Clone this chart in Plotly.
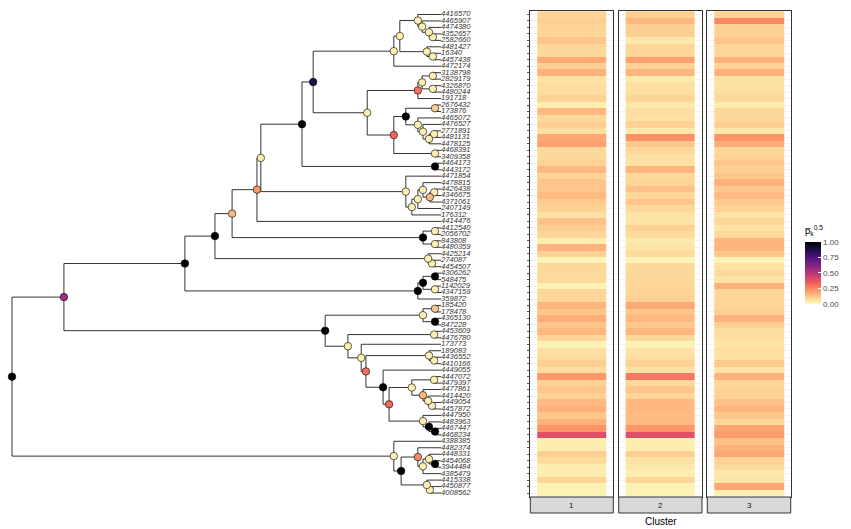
import re
import plotly.graph_objects as go

# ---------------- data ----------------
leaf_labels = [
    "4416570", "4465907", "4474380", "4352657", "2582660", "4481427", "16340", "4457438", "4472174",
    "3138798", "2829179", "4326870", "4480244", "191718", "2676432", "173876", "4465072", "4476527",
    "2771891", "4481131", "4478125", "4468391", "3409358", "4464173", "4443172", "4471854", "4478815",
    "4426438", "4346675", "4371061", "2407149", "176312", "4414476", "4412540", "2056702", "843808",
    "4480359", "4425214", "274087", "4454507", "4306262", "548475", "1142029", "4347159", "359872",
    "185420", "178478", "4365130", "847228", "4453609", "4476780", "173773", "189083", "4436552",
    "4410166", "4449055", "4447072", "4479397", "4477861", "4414420", "4449054", "4457872", "4447950",
    "4483963", "4467447", "4468234", "4388385", "4482374", "4448331", "4454068", "3944484", "4385479",
    "4415338", "4450877", "4008562",
]

tree_newick = (
    "((((((((((((4416570,(4465907,(4474380,(4352657,2582660)a4)a3)a2)a1,(4481427,(16340,4457438)b2)b1)c1,"
    "4472174)c0,((((3138798,2829179)d3,(4326870,4480244)d4)d2,191718)d1,(((2676432,173876)e3,(4465072,"
    "(4476527,((2771891,4481131)e7,4478125)e6)e5)e4)e2,(4468391,3409358)e8)e1)m)N,(4464173,4443172)z2)Z,"
    "(4471854,(((4478815,((4426438,4346675)q5,4371061)q4)q3,2407149)q2,176312)q1)Q)Y,4414476)X,"
    "((4412540,2056702)k1,(843808,4480359)k2)K)W,(4425214,(274087,4454507)l1)L)V,"
    "(((4306262,548475)t2,(1142029,4347159)t3)t1,359872)T)U,"
    "(((185420,178478)g2,(4365130,847228)g3)G1,((4453609,4476780)h1b,(173773,((189083,(4436552,4410166)h4b)H4,"
    "(4449055,(((4447072,4479397)h7b,(4477861,(4414420,(4449054,4457872)h9b)H9)H8)H7,"
    "(4447950,(4483963,(4467447,4468234)h11b)H11)H10)H6)H5)H3)H2)H1)LB)P,"
    "(4388385,((4482374,((4448331,(4454068,3944484)Gg)F,4385479)E)C,(4415338,(4450877,4008562)Hh)D)B)A)R;"
)

# internal nodes: depth (root = 0, tips = 100) and support value
node_ids = ["a1", "a2", "a3", "a4", "b1", "b2", "c1", "c0", "d1", "d2", "d3", "d4", "e1", "e2", "e3", "e4",
            "e5", "e6", "e7", "e8", "m", "N", "z2", "Z", "Q", "q1", "q2", "q3", "q4", "q5", "Y", "X", "k1",
            "k2", "K", "W", "l1", "L", "V", "t2", "t3", "t1", "T", "U", "g2", "g3", "G1", "h4b", "H4", "h9b",
            "H9", "H8", "h7b", "H7", "h11b", "H11", "H10", "H6", "H5", "H3", "H2", "h1b", "H1", "LB", "P",
            "Gg", "F", "E", "C", "Hh", "D", "B", "A", "R"]
node_depth = [94.6, 95.6, 97.2, 98.1, 96.7, 98.1, 90.4, 89.0, 94.6, 95.6, 98.1, 98.1, 89.0, 91.8, 98.6, 94.6,
              95.8, 97.2, 98.4, 98.6, 82.8, 70.2, 98.6, 67.6, 91.8, 93.2, 94.6, 95.8, 97.4, 98.4, 58.0, 57.1,
              98.6, 98.6, 95.8, 51.3, 97.9, 97.0, 47.3, 98.6, 98.6, 95.8, 94.6, 40.3, 98.6, 98.6, 95.8, 98.4,
              97.2, 97.9, 97.0, 95.8, 98.4, 93.2, 98.6, 97.2, 95.8, 87.9, 86.5, 82.5, 81.4, 98.4, 78.3, 73.0,
              12.1, 98.6, 97.2, 95.8, 94.6, 97.4, 96.7, 90.7, 89.0, 0.0]
node_support = [0.03, 0.03, 0.03, 0.03, 0.03, 0.03, 0.03, 0.03, 0.30, 0.03, 0.03, 0.03, 0.32, 1.0, 0.10, 0.03,
                0.03, 0.03, 0.03, 0.03, 0.03, 0.88, 1.0, 1.0, 0.03, 0.03, 0.03, 0.03, 0.15, 0.03, 0.03, 0.22,
                0.03, 0.03, 1.0, 0.15, 0.03, 0.03, 1.0, 1.0, 0.03, 1.0, 1.0, 1.0, 0.12, 1.0, 0.03, 0.03,
                0.03, 0.03, 0.03, 0.15, 0.03, 0.03, 1.0, 1.0, 0.03, 0.32, 1.0, 0.30, 0.03, 0.03, 0.03, 1.0,
                0.55, 1.0, 0.03, 0.03, 0.25, 0.03, 0.03, 1.0, 0.03, 1.0]

clusters = ["1", "2", "3"]
p_cluster1 = [0.09, 0.10, 0.09, 0.09, 0.12, 0.085, 0.08, 0.18, 0.10, 0.165, 0.055, 0.07, 0.07, 0.095, 0.035,
              0.15, 0.08, 0.10, 0.07, 0.185, 0.20, 0.08, 0.08, 0.095, 0.145, 0.09, 0.12, 0.12, 0.14, 0.11,
              0.095, 0.06, 0.13, 0.105, 0.085, 0.035, 0.16, 0.095, 0.02, 0.08, 0.08, 0.078, 0.025, 0.085,
              0.085, 0.157, 0.12, 0.17, 0.12, 0.15, 0.085, 0.025, 0.06, 0.075, 0.10, 0.07, 0.215, 0.094,
              0.12, 0.094, 0.145, 0.165, 0.12, 0.165, 0.225, 0.39, 0.035, 0.035, 0.10, 0.075, 0.035, 0.035,
              0.09, 0.025, 0.025]
p_cluster2 = [0.10, 0.15, 0.10, 0.10, 0.047, 0.085, 0.085, 0.20, 0.094, 0.155, 0.04, 0.065, 0.065, 0.09, 0.045,
              0.07, 0.06, 0.094, 0.047, 0.235, 0.118, 0.086, 0.06, 0.06, 0.155, 0.08, 0.09, 0.13, 0.086, 0.12,
              0.08, 0.055, 0.055, 0.095, 0.075, 0.045, 0.055, 0.075, 0.02, 0.08, 0.08, 0.08, 0.086, 0.09,
              0.094, 0.18, 0.12, 0.15, 0.118, 0.155, 0.08, 0.025, 0.055, 0.07, 0.095, 0.06, 0.285, 0.078,
              0.12, 0.09, 0.15, 0.15, 0.14, 0.145, 0.225, 0.39, 0.035, 0.035, 0.10, 0.055, 0.045, 0.035,
              0.086, 0.025, 0.025]
p_cluster3 = [0.094, 0.25, 0.094, 0.094, 0.12, 0.085, 0.085, 0.165, 0.094, 0.165, 0.06, 0.06, 0.065, 0.08, 0.04,
              0.08, 0.08, 0.10, 0.047, 0.225, 0.175, 0.086, 0.094, 0.118, 0.10, 0.12, 0.165, 0.118, 0.145, 0.11,
              0.09, 0.055, 0.086, 0.055, 0.08, 0.155, 0.155, 0.12, 0.02, 0.06, 0.078, 0.055, 0.165, 0.085,
              0.085, 0.09, 0.10, 0.165, 0.10, 0.07, 0.07, 0.055, 0.07, 0.06, 0.11, 0.055, 0.16, 0.086,
              0.094, 0.094, 0.13, 0.155, 0.118, 0.086, 0.19, 0.21, 0.13, 0.165, 0.185, 0.094, 0.08, 0.047,
              0.055, 0.185, 0.03]
colorbar_ticks = [0.0, 0.25, 0.5, 0.75, 1.0]
colorbar_ticktext = ["0.00", "0.25", "0.50", "0.75", "1.00"]

# ---------------- tree parsing / layout ----------------
def parse_newick(s):
    s = s.strip().rstrip(";")
    pos = 0

    def read_name():
        nonlocal pos
        m = re.match(r"[^,();]*", s[pos:])
        name = m.group(0)
        pos += len(name)
        return name

    def node():
        nonlocal pos
        if s[pos] == "(":
            pos += 1
            kids = [node()]
            while s[pos] == ",":
                pos += 1
                kids.append(node())
            pos += 1  # ')'
            return {"name": read_name(), "children": kids}
        return {"name": read_name(), "children": []}

    return node()

tree = parse_newick(tree_newick)
depth_of = dict(zip(node_ids, node_depth))
support_of = dict(zip(node_ids, node_support))
leaf_index = {lab: i + 1 for i, lab in enumerate(leaf_labels)}

seg_x, seg_y = [], []
nx, ny, nc = [], [], []

def layout(n):
    if not n["children"]:
        n["x"] = 100.0
        n["y"] = float(leaf_index[n["name"]])
        return
    for c in n["children"]:
        layout(c)
    n["x"] = depth_of[n["name"]]
    n["y"] = sum(c["y"] for c in n["children"]) / len(n["children"])

layout(tree)

def draw(n):
    if not n["children"]:
        return
    ys = [c["y"] for c in n["children"]]
    seg_x.extend([n["x"], n["x"], None])
    seg_y.extend([min(ys), max(ys), None])
    for c in n["children"]:
        seg_x.extend([n["x"], c["x"], None])
        seg_y.extend([c["y"], c["y"], None])
        draw(c)
    nx.append(n["x"])
    ny.append(n["y"])
    nc.append(support_of[n["name"]])

draw(tree)

# ---------------- figure ----------------
W, H = 851, 529
font_family = "Liberation Sans, Arial, sans-serif"
y_dom = [1 - 496.9 / H, 1 - 10.6 / H]
y_rng = [75.6, 0.4]

fig = go.Figure()

fig.add_trace(go.Scatter(x=seg_x, y=seg_y, mode="lines", line=dict(color="black", width=0.8),
                         hoverinfo="skip", showlegend=False, xaxis="x", yaxis="y"))
fig.add_trace(go.Scatter(x=[100.0] * len(leaf_labels), y=list(range(1, len(leaf_labels) + 1)),
                         mode="text", text=["<i>" + t + "</i>" for t in leaf_labels],
                         textposition="middle right", cliponaxis=False,
                         textfont=dict(family=font_family, size=7.6, color="#333333"),
                         hoverinfo="skip", showlegend=False, xaxis="x", yaxis="y"))
fig.add_trace(go.Scatter(x=nx, y=ny, mode="markers", cliponaxis=False,
                         marker=dict(size=7.5, color=nc, coloraxis="coloraxis",
                                     line=dict(color="black", width=0.6)),
                         hoverinfo="skip", showlegend=False, xaxis="x", yaxis="y"))

panel_px = [(530.3, 613.3), (618.7, 702.0), (707.3, 790.7)]
values = [p_cluster1, p_cluster2, p_cluster3]
y_edges = [i + 0.5 for i in range(len(leaf_labels) + 1)]
for k, (vals, name) in enumerate(zip(values, clusters)):
    ax = str(k + 2)
    fig.add_trace(go.Heatmap(x=[0.5, 1.5], y=y_edges, z=[[v] for v in vals], coloraxis="coloraxis",
                             hoverinfo="skip", xaxis="x" + ax, yaxis="y" + ax))
    x0, x1 = panel_px[k]
    fig.update_layout(**{
        "xaxis" + ax: dict(domain=[x0 / W, x1 / W], range=[0.4, 1.6], showgrid=False, zeroline=False,
                           showticklabels=False, ticks="", showline=True, mirror=True,
                           linecolor="#333333", linewidth=1, anchor="y" + ax),
        "yaxis" + ax: dict(domain=y_dom, range=y_rng, showgrid=True, gridcolor="#ebebeb", gridwidth=0.6,
                           zeroline=False, tickvals=list(range(1, len(leaf_labels) + 1)),
                           showticklabels=False, ticks="outside" if k == 0 else "", ticklen=2.5,
                           tickwidth=0.8, tickcolor="#333333", showline=True, mirror=True,
                           linecolor="#333333", linewidth=1, anchor="x" + ax),
    })
    fig.add_shape(type="rect", xref="x" + ax + " domain", yref="paper", x0=0, x1=1,
                  y0=1 - 513 / H, y1=1 - 497 / H, fillcolor="#d9d9d9",
                  line=dict(color="#333333", width=1), layer="above")
    fig.add_annotation(x=0.5, xref="x" + ax + " domain", y=1 - 505 / H, yref="paper", text=name,
                       xanchor="center", yanchor="middle", showarrow=False,
                       font=dict(family=font_family, size=8, color="#1a1a1a"))

fig.add_annotation(x=660.5 / W, xref="paper", y=1 - 521.5 / H, yref="paper", text="Cluster",
                   xanchor="center", yanchor="middle", showarrow=False,
                   font=dict(family=font_family, size=10, color="black"))

fig.update_layout(
    width=W, height=H, autosize=False, margin=dict(l=0, r=0, t=0, b=0, pad=0, autoexpand=False),
    paper_bgcolor="white", plot_bgcolor="white",
    xaxis=dict(domain=[0, 500 / W], range=[-12 / 4.29, 488 / 4.29], visible=False),
    yaxis=dict(domain=y_dom, range=y_rng, visible=False),
    coloraxis=dict(
        colorscale="magma_r", cmin=0, cmax=1,
        colorbar=dict(
            x=805 / W, xanchor="left", y=1 - 264 / H, yanchor="middle", xpad=0, ypad=0,
            lenmode="pixels", len=80, thickness=16, outlinewidth=0,
            tickvals=colorbar_ticks, ticktext=colorbar_ticktext,
            ticks="inside", ticklen=3, tickcolor="white", tickwidth=1,
            tickfont=dict(family=font_family, size=8, color="#4d4d4d"),
            title=dict(text="p\u0305<sub>k</sub><sup>0.5</sup>", side="top",
                       font=dict(family=font_family, size=9.5, color="black")),
        ),
    ),
    font=dict(family=font_family),
)

fig.write_html(
    "out.html",
    config={"displayModeBar": False, "responsive": False, "staticPlot": True},
    post_script=("document.body.style.margin='0';document.body.style.overflow='hidden';"
                 "var gd=document.getElementById('{plot_id}');"
                 "Plotly.relayout(gd,{width:851,height:529});"),
)
